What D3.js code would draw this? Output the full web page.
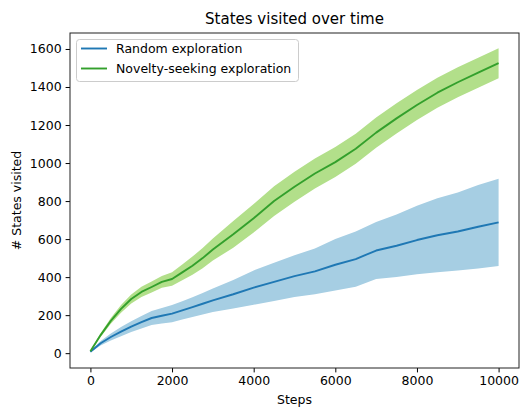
<!DOCTYPE html>
<html>
<head>
<meta charset="utf-8">
<script src="https://cdn.jsdelivr.net/npm/d3@7"></script>
<style>
  html, body { margin: 0; padding: 0; background: #fff; }
  svg { display: block; font-family: "DejaVu Sans", sans-serif; }
</style>
</head>
<body>
<svg id="chart" width="520" height="409"></svg>
<script>
// Steps at which the runs were sampled (denser early on, where the curves bend)
const steps = [0, 250, 500, 750, 1000, 1250, 1500, 1750, 2000, 2250, 2500, 2750, 3000,
               3500, 4000, 4500, 5000, 5500, 6000, 6500, 7000, 7500, 8000, 8500, 9000, 9500, 10000];

// Random exploration: mean and band
const randomMean = [8, 52, 85, 113, 140, 163, 185, 197, 208, 225, 242, 260, 278,
                    310, 345, 375, 405, 430, 465, 495, 540, 565, 595, 620, 640, 665, 688];
const randomLow  = [4, 40, 67, 89, 112, 130, 148, 156, 163, 177, 190, 204, 216,
                    235, 255, 275, 295, 310, 330, 350, 390, 400, 415, 425, 435, 445, 458];
const randomHigh = [12, 64, 103, 137, 168, 196, 222, 238, 253, 273, 294, 316, 340,
                    385, 435, 475, 515, 550, 600, 640, 690, 730, 775, 815, 845, 885, 918];

// Novelty-seeking exploration: mean and band
const noveltyMean = [10, 95, 170, 233, 285, 322, 348, 375, 390, 425, 460, 500, 545,
                     625, 710, 800, 875, 945, 1005, 1075, 1160, 1235, 1305, 1370, 1425, 1475, 1525];
const noveltyLow  = [7, 85, 155, 213, 261, 295, 319, 344, 354, 383, 412, 447, 487,
                     555, 635, 722, 796, 866, 926, 996, 1081, 1156, 1226, 1291, 1346, 1396, 1446];
const noveltyHigh = [13, 105, 185, 253, 309, 349, 377, 406, 426, 467, 508, 553, 603,
                     695, 785, 878, 954, 1024, 1084, 1154, 1239, 1314, 1384, 1449, 1504, 1554, 1604];

const xTicks = [0, 2000, 4000, 6000, 8000, 10000];
const yTicks = [0, 200, 400, 600, 800, 1000, 1200, 1400, 1600];

const series = [
  { name: "Random exploration", mean: randomMean, low: randomLow, high: randomHigh,
    line: "#1f78b4", fill: "#a6cee3" },
  { name: "Novelty-seeking exploration", mean: noveltyMean, low: noveltyLow, high: noveltyHigh,
    line: "#33a02c", fill: "#b2df8a" }
];

const svg = d3.select("#chart");
const plot = { left: 70, top: 33, right: 519, bottom: 368 };

const x = d3.scaleLinear().domain([-500, 10500]).range([plot.left, plot.right]);
const y = d3.scaleLinear().domain([-78, 1684]).range([plot.bottom, plot.top]);

// Shaded bands first, then mean lines on top
series.forEach(s => {
  const area = d3.area()
    .x((d, i) => x(steps[i]))
    .y0((d, i) => y(s.low[i]))
    .y1((d, i) => y(s.high[i]));
  svg.append("path").datum(s.mean).attr("d", area).attr("fill", s.fill);
});
series.forEach(s => {
  const line = d3.line().x((d, i) => x(steps[i])).y(d => y(d));
  svg.append("path").datum(s.mean).attr("d", line)
    .attr("fill", "none").attr("stroke", s.line).attr("stroke-width", 1.9)
    .attr("stroke-linejoin", "round");
});

// Axes
const tickFont = 12.5;
const xAxis = svg.append("g").attr("transform", `translate(0,${plot.bottom})`)
  .call(d3.axisBottom(x).tickValues(xTicks).tickSize(4.4).tickPadding(4).tickFormat(d3.format("d")));
const yAxis = svg.append("g").attr("transform", `translate(${plot.left},0)`)
  .call(d3.axisLeft(y).tickValues(yTicks).tickSize(4.4).tickPadding(4).tickFormat(d3.format("d")));
[xAxis, yAxis].forEach(g => {
  g.select(".domain").remove();
  g.selectAll(".tick line").attr("stroke", "#000").attr("stroke-width", 1);
  g.selectAll(".tick text").attr("fill", "#000")
    .style("font-family", "DejaVu Sans").style("font-size", tickFont + "px");
});

// Frame
svg.append("rect")
  .attr("x", plot.left).attr("y", plot.top)
  .attr("width", plot.right - plot.left).attr("height", plot.bottom - plot.top)
  .attr("fill", "none").attr("stroke", "#222").attr("stroke-width", 1);

// Title and axis labels
svg.append("text").attr("x", (plot.left + plot.right) / 2).attr("y", 24)
  .attr("text-anchor", "middle").style("font-size", "15px").attr("fill", "#000")
  .text("States visited over time");
svg.append("text").attr("x", (plot.left + plot.right) / 2).attr("y", 404)
  .attr("text-anchor", "middle").style("font-size", "12.5px").attr("fill", "#000")
  .text("Steps");
svg.append("text")
  .attr("transform", `translate(21,${(plot.top + plot.bottom) / 2}) rotate(-90)`)
  .attr("text-anchor", "middle").style("font-size", "12.5px").attr("fill", "#000")
  .text("# States visited");

// Legend
const legend = svg.append("g").attr("transform", "translate(76,39)");
legend.append("rect").attr("x", 0.5).attr("y", 0.5).attr("width", 222).attr("height", 42)
  .attr("rx", 3).attr("fill", "#fff").attr("fill-opacity", 0.8)
  .attr("stroke", "#ccc").attr("stroke-width", 1);
series.forEach((s, i) => {
  const cy = 9.5 + i * 20;
  legend.append("line").attr("x1", 5).attr("x2", 31).attr("y1", cy).attr("y2", cy)
    .attr("stroke", s.line).attr("stroke-width", 1.9);
  legend.append("text").attr("x", 40).attr("y", cy + 4.5)
    .style("font-size", "12.5px").attr("fill", "#000").text(s.name);
});
</script>
</body>
</html>
